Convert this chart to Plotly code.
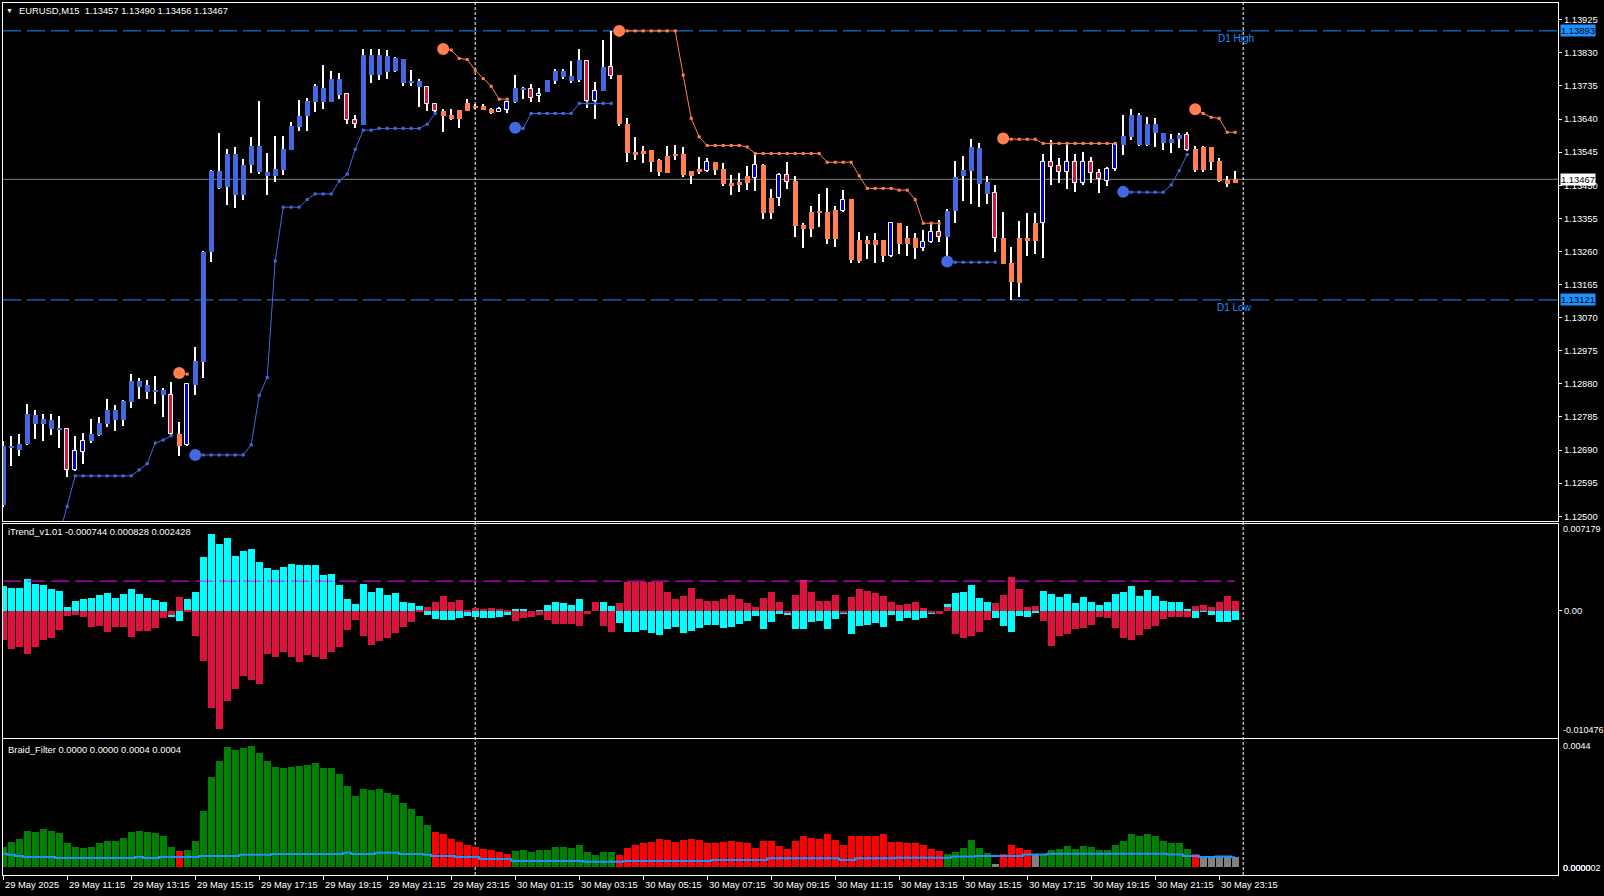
import plotly.graph_objects as go

# ---------------- data ----------------
symbol = "EURUSD,M15"

opens = [
    1.12533, 1.12695, 1.12691, 1.12708, 1.12765, 1.12765, 1.12751, 1.12748, 1.12750, 1.12633,
    1.12684, 1.12715, 1.12732, 1.12765, 1.12775, 1.12775, 1.12829, 1.12872, 1.12858, 1.12858,
    1.12847, 1.12847, 1.12737, 1.12704, 1.12877, 1.12944, 1.13259, 1.13443, 1.13446, 1.13422,
    1.13422, 1.13508, 1.13489, 1.13477, 1.13477, 1.13494, 1.13551, 1.13618, 1.13648, 1.13689,
    1.13689, 1.13689, 1.13709, 1.13711, 1.13636, 1.13623, 1.13766, 1.13766, 1.13775, 1.13777,
    1.13744, 1.13744, 1.13732, 1.13732, 1.13682, 1.13663, 1.13651, 1.13666, 1.13685, 1.13677,
    1.13677, 1.13668, 1.13659, 1.13667, 1.13689, 1.13726, 1.13727, 1.13705, 1.13718, 1.13750,
    1.13761, 1.13749, 1.13751, 1.13806, 1.13692, 1.13721, 1.13788, 1.13766, 1.13627, 1.13545,
    1.13548, 1.13551, 1.13522, 1.13534, 1.13539, 1.13539, 1.13491, 1.13496, 1.13492, 1.13516,
    1.13496, 1.13457, 1.13460, 1.13476, 1.13472, 1.13508, 1.13414, 1.13412, 1.13479, 1.13462,
    1.13336, 1.13374, 1.13374, 1.13374, 1.13379, 1.13377, 1.13410, 1.13293, 1.13293, 1.13293,
    1.13293, 1.13247, 1.13343, 1.13299, 1.13299, 1.13269, 1.13286, 1.13315, 1.13302, 1.13377,
    1.13476, 1.13492, 1.13454, 1.13425, 1.13427, 1.13298, 1.13226, 1.13300, 1.13299, 1.13341,
    1.13341, 1.13517, 1.13505, 1.13489, 1.13517, 1.13457, 1.13517, 1.13486, 1.13463, 1.13496,
    1.13565, 1.13589, 1.13565, 1.13565, 1.13599, 1.13572, 1.13570, 1.13582, 1.13594, 1.13554,
    1.13560, 1.13560, 1.13519, 1.13465, 1.13457,
]
highs = [
    1.12715, 1.12731, 1.12737, 1.12822, 1.12804, 1.12793, 1.12793, 1.12788, 1.12752, 1.12731,
    1.12739, 1.12779, 1.12786, 1.12836, 1.12820, 1.12834, 1.12909, 1.12896, 1.12891, 1.12903,
    1.12868, 1.12884, 1.12770, 1.12881, 1.12987, 1.13261, 1.13493, 1.13599, 1.13554, 1.13560,
    1.13524, 1.13589, 1.13692, 1.13543, 1.13591, 1.13592, 1.13632, 1.13694, 1.13701, 1.13742,
    1.13795, 1.13778, 1.13771, 1.13716, 1.13651, 1.13840, 1.13840, 1.13840, 1.13838, 1.13818,
    1.13812, 1.13780, 1.13756, 1.13734, 1.13685, 1.13668, 1.13668, 1.13666, 1.13697, 1.13683,
    1.13682, 1.13673, 1.13675, 1.13689, 1.13766, 1.13731, 1.13740, 1.13730, 1.13751, 1.13783,
    1.13785, 1.13806, 1.13842, 1.13809, 1.13747, 1.13866, 1.13893, 1.13766, 1.13644, 1.13589,
    1.13562, 1.13551, 1.13525, 1.13563, 1.13565, 1.13560, 1.13491, 1.13532, 1.13529, 1.13516,
    1.13515, 1.13479, 1.13486, 1.13506, 1.13539, 1.13511, 1.13439, 1.13486, 1.13517, 1.13476,
    1.13343, 1.13390, 1.13425, 1.13441, 1.13390, 1.13436, 1.13410, 1.13317, 1.13304, 1.13314,
    1.13293, 1.13343, 1.13343, 1.13333, 1.13312, 1.13322, 1.13338, 1.13350, 1.13382, 1.13519,
    1.13534, 1.13582, 1.13570, 1.13476, 1.13451, 1.13372, 1.13272, 1.13347, 1.13369, 1.13369,
    1.13541, 1.13580, 1.13527, 1.13565, 1.13541, 1.13544, 1.13530, 1.13496, 1.13503, 1.13572,
    1.13651, 1.13668, 1.13656, 1.13646, 1.13642, 1.13601, 1.13597, 1.13601, 1.13602, 1.13563,
    1.13562, 1.13560, 1.13529, 1.13477, 1.13490,
]
lows = [
    1.12528, 1.12645, 1.12672, 1.12705, 1.12721, 1.12717, 1.12734, 1.12697, 1.12614, 1.12630,
    1.12650, 1.12710, 1.12731, 1.12755, 1.12746, 1.12760, 1.12810, 1.12836, 1.12837, 1.12823,
    1.12786, 1.12734, 1.12674, 1.12702, 1.12847, 1.12898, 1.13231, 1.13439, 1.13393, 1.13386,
    1.13408, 1.13484, 1.13482, 1.13422, 1.13460, 1.13479, 1.13550, 1.13606, 1.13606, 1.13661,
    1.13668, 1.13688, 1.13697, 1.13627, 1.13613, 1.13622, 1.13744, 1.13751, 1.13756, 1.13776,
    1.13735, 1.13734, 1.13675, 1.13663, 1.13659, 1.13604, 1.13637, 1.13613, 1.13664, 1.13670,
    1.13666, 1.13654, 1.13659, 1.13656, 1.13685, 1.13697, 1.13689, 1.13689, 1.13718, 1.13742,
    1.13754, 1.13744, 1.13747, 1.13673, 1.13639, 1.13721, 1.13756, 1.13620, 1.13517, 1.13522,
    1.13513, 1.13489, 1.13477, 1.13486, 1.13522, 1.13474, 1.13455, 1.13482, 1.13489, 1.13479,
    1.13448, 1.13422, 1.13431, 1.13436, 1.13434, 1.13353, 1.13353, 1.13391, 1.13439, 1.13302,
    1.13271, 1.13302, 1.13331, 1.13280, 1.13274, 1.13372, 1.13228, 1.13228, 1.13238, 1.13228,
    1.13231, 1.13245, 1.13253, 1.13247, 1.13238, 1.13262, 1.13283, 1.13288, 1.13231, 1.13343,
    1.13405, 1.13396, 1.13388, 1.13396, 1.13259, 1.13223, 1.13121, 1.13130, 1.13247, 1.13253,
    1.13242, 1.13451, 1.13457, 1.13439, 1.13431, 1.13452, 1.13457, 1.13429, 1.13449, 1.13492,
    1.13537, 1.13580, 1.13563, 1.13562, 1.13560, 1.13551, 1.13543, 1.13556, 1.13548, 1.13489,
    1.13489, 1.13494, 1.13460, 1.13446, 1.13456,
]
closes = [
    1.12702, 1.12702, 1.12708, 1.12793, 1.12790, 1.12779, 1.12777, 1.12754, 1.12633, 1.12686,
    1.12715, 1.12736, 1.12767, 1.12805, 1.12805, 1.12831, 1.12889, 1.12889, 1.12877, 1.12863,
    1.12863, 1.12736, 1.12703, 1.12879, 1.12946, 1.13259, 1.13491, 1.13491, 1.13541, 1.13541,
    1.13508, 1.13563, 1.13563, 1.13489, 1.13496, 1.13554, 1.13620, 1.13648, 1.13691, 1.13734,
    1.13730, 1.13756, 1.13756, 1.13637, 1.13625, 1.13823, 1.13823, 1.13823, 1.13820, 1.13816,
    1.13812, 1.13749, 1.13749, 1.13682, 1.13663, 1.13649, 1.13639, 1.13639, 1.13664, 1.13672,
    1.13666, 1.13658, 1.13668, 1.13688, 1.13730, 1.13730, 1.13701, 1.13711, 1.13751, 1.13777,
    1.13777, 1.13763, 1.13809, 1.13692, 1.13720, 1.13790, 1.13764, 1.13625, 1.13543, 1.13537,
    1.13539, 1.13516, 1.13489, 1.13486, 1.13535, 1.13479, 1.13477, 1.13489, 1.13516, 1.13494,
    1.13453, 1.13449, 1.13451, 1.13457, 1.13508, 1.13371, 1.13371, 1.13479, 1.13460, 1.13333,
    1.13325, 1.13325, 1.13371, 1.13296, 1.13296, 1.13409, 1.13236, 1.13234, 1.13281, 1.13278,
    1.13247, 1.13341, 1.13281, 1.13281, 1.13269, 1.13286, 1.13315, 1.13302, 1.13377, 1.13473,
    1.13494, 1.13559, 1.13557, 1.13458, 1.13298, 1.13224, 1.13173, 1.13170, 1.13291, 1.13291,
    1.13516, 1.13501, 1.13489, 1.13517, 1.13457, 1.13517, 1.13486, 1.13467, 1.13498, 1.13567,
    1.13591, 1.13651, 1.13651, 1.13627, 1.13625, 1.13599, 1.13582, 1.13594, 1.13551, 1.13494,
    1.13494, 1.13517, 1.13463, 1.13453, 1.13467,
]
# candle paint: U = trend-up body, D = trend-down body, R = bear candle, B = bull candle
candle_style = ("UUUUUUUURB" "BUUUUUUUUU" "URDBUUUUUU" "UUUUUUUUUU" "UUURRUUUUU"
                "UUURRDDDDD" "DDBBUURBUU" "UUURBURDDD" "DDDDDDDDBD" "DDDDBDDBRD"
                "DDDDDBDDDD" "DBDDDBBRUU" "UUUURDDDDD" "BRRBRBRRBB" "UUUUUUUURD"
                "DDDDD")

# trailing stop lines: (first bar, values)
up_trail_segments = [
    (7, [1.12445, 1.12528, 1.12616, 1.12616, 1.12616, 1.12616, 1.12616, 1.12616, 1.12616,
         1.12616, 1.12633, 1.12651, 1.12710, 1.12719, 1.12731]),
    (24, [1.12676, 1.12676, 1.12676, 1.12676, 1.12676, 1.12676, 1.12676, 1.12705, 1.12847,
          1.12898, 1.13233, 1.13387, 1.13387, 1.13387, 1.13409, 1.13425, 1.13425, 1.13425,
          1.13462, 1.13482, 1.13553, 1.13608, 1.13608, 1.13613, 1.13613, 1.13613, 1.13613,
          1.13613, 1.13613, 1.13625, 1.13656]),
    (64, [1.13615, 1.13613, 1.13656, 1.13656, 1.13656, 1.13656, 1.13656, 1.13656, 1.13685,
          1.13685, 1.13685, 1.13685, 1.13685]),
    (118, [1.13231, 1.13229, 1.13229, 1.13229, 1.13229, 1.13229, 1.13229]),
    (140, [1.13431, 1.13430, 1.13430, 1.13430, 1.13430, 1.13430, 1.13451, 1.13492, 1.13538]),
]
down_trail_segments = [
    (22, [1.12911, 1.12908]),
    (55, [1.13841, 1.13838, 1.13814, 1.13811, 1.13780, 1.13756, 1.13734, 1.13697, 1.13697]),
    (77, [1.13893, 1.13893, 1.13893, 1.13893, 1.13893, 1.13893, 1.13893, 1.13893, 1.13766,
          1.13642, 1.13589, 1.13564, 1.13564, 1.13564, 1.13564, 1.13564, 1.13560, 1.13541,
          1.13541, 1.13541, 1.13541, 1.13541, 1.13541, 1.13541, 1.13541, 1.13541, 1.13516,
          1.13516, 1.13516, 1.13516, 1.13477, 1.13441, 1.13441, 1.13441, 1.13441, 1.13436,
          1.13436, 1.13409, 1.13341, 1.13341, 1.13341]),
    (125, [1.13584, 1.13582, 1.13582, 1.13582, 1.13582, 1.13570, 1.13570, 1.13570, 1.13570,
           1.13570, 1.13570, 1.13570, 1.13570, 1.13570, 1.13570]),
    (149, [1.13668, 1.13656, 1.13645, 1.13642, 1.13602, 1.13602]),
]

d1_high = 1.13893
d1_low = 1.13121
price_range = [1.124865, 1.13973]
price_ticks = [1.12500, 1.12595, 1.12690, 1.12785, 1.12880, 1.12975, 1.13070, 1.13165,
               1.13260, 1.13355, 1.13450, 1.13545, 1.13640, 1.13735, 1.13830, 1.13925]

itrend_cyan = [
    0.00207, 0.00190, 0.00190, 0.00265, 0.00224, 0.00215, 0.00182, 0.00166, 0.00033, 0.00083,
    0.00099, 0.00108, 0.00132, 0.00149, 0.00108, 0.00141, 0.00182, 0.00141, 0.00108, 0.00091,
    0.00075, -0.00050, -0.00083, 0.00099, 0.00157, 0.00447, 0.00638, 0.00555, 0.00604, 0.00455,
    0.00497, 0.00513, 0.00406, 0.00356, 0.00339, 0.00364, 0.00389, 0.00381, 0.00381, 0.00381,
    0.00298, 0.00306, 0.00215, 0.00099, 0.00058, 0.00224, 0.00157, 0.00190, 0.00132, 0.00149,
    0.00075, 0.00066, 0.00041, -0.00033, -0.00066, -0.00075, -0.00075, -0.00058, -0.00041, -0.00050,
    -0.00058, -0.00058, -0.00050, -0.00033, 0.00019, 0.00019, 0.0, 0.00011, 0.00050, 0.00077,
    0.00066, 0.00050, 0.00100, 0.0, 0.0, 0.00075, 0.00041, -0.00097, -0.00171, -0.00174,
    -0.00157, -0.00182, -0.00199, -0.00149, -0.00132, -0.00182, -0.00166, -0.00141, -0.00116, -0.00116,
    -0.00141, -0.00132, -0.00108, -0.00083, -0.00041, -0.00149, -0.00091, -0.00025, -0.00033, -0.00149,
    -0.00149, -0.00091, -0.00083, -0.00149, -0.00066, -0.00025, -0.00190, -0.00124, -0.00116, -0.00099,
    -0.00132, -0.00033, -0.00083, -0.00058, -0.00075, -0.00058, -0.00025, 0.0, 0.00058, 0.00149,
    0.00157, 0.00215, 0.00108, 0.00075, -0.00058, -0.00124, -0.00174, -0.00041, -0.00050, -0.00008,
    0.00166, 0.00141, 0.00116, 0.00141, 0.00066, 0.00116, 0.00075, 0.00050, 0.00075, 0.00141,
    0.00157, 0.00207, 0.00124, 0.00174, 0.00124, 0.00083, 0.00075, 0.00075, 0.00017, -0.00058,
    -0.00005, -0.00030, -0.00088, -0.00088, -0.000744,
]
itrend_red = [
    -0.00240, -0.00312, -0.00298, -0.00356, -0.00298, -0.00240, -0.00224, -0.00157, -0.00041, -0.00033,
    -0.00050, -0.00132, -0.00124, -0.00174, -0.00132, -0.00132, -0.00215, -0.00166, -0.00166, -0.00141,
    -0.00058, -0.00033, 0.00116, 0.00008, -0.00207, -0.00414, -0.00800, -0.00974, -0.00742, -0.00643,
    -0.00535, -0.00569, -0.00602, -0.00353, -0.00378, -0.00337, -0.00378, -0.00420, -0.00362, -0.00378,
    -0.00395, -0.00337, -0.00295, -0.00157, -0.00075, -0.00207, -0.00279, -0.00246, -0.00224, -0.00182,
    -0.00132, -0.00091, 0.00008, 0.00033, 0.00075, 0.00124, 0.00075, 0.00091, 0.00008, 0.00025,
    0.00017, 0.00025, 0.00017, 0.00011, -0.00080, -0.00058, -0.00047, -0.00033, -0.00072, -0.00105,
    -0.00105, -0.00105, -0.00121, -0.00022, 0.00075, -0.00121, -0.00171, 0.00066, 0.00240, 0.00240,
    0.00240, 0.00240, 0.00240, 0.00157, 0.00099, 0.00124, 0.00190, 0.00099, 0.00083, 0.00083,
    0.00099, 0.00132, 0.00099, 0.00066, 0.00033, 0.00108, 0.00157, 0.00075, -0.00014, 0.00132,
    0.00257, 0.00157, 0.00083, 0.00083, 0.00132, -0.00015, 0.00116, 0.00182, 0.00166, 0.00149,
    0.00124, 0.00075, 0.00050, 0.00058, 0.00075, 0.00025, -0.00008, -0.00025, 0.00033, -0.00190,
    -0.00224, -0.00207, -0.00174, -0.00075, 0.00066, 0.00132, 0.00282, 0.00182, 0.00033, 0.00041,
    -0.00083, -0.00290, -0.00207, -0.00190, -0.00149, -0.00141, -0.00116, -0.00050, -0.00058, -0.00141,
    -0.00224, -0.00240, -0.00199, -0.00149, -0.00124, -0.00066, -0.00050, -0.00050, -0.00050, 0.00041,
    0.00047, 0.00033, 0.00077, 0.00124, 0.000828,
]
itrend_level = 0.002428
itrend_range = [-0.010476, 0.007179]

braid_value = [
    0.00071, 0.00088, 0.00099, 0.00126, 0.00123, 0.00130, 0.00126, 0.00119, 0.00082, 0.00071,
    0.00068, 0.00071, 0.00082, 0.00092, 0.00092, 0.00102, 0.00123, 0.00126, 0.00123, 0.00119,
    0.00109, 0.00071, 0.00057, 0.00061, 0.00092, 0.00192, 0.00309, 0.00364, 0.00412, 0.00402,
    0.00409, 0.00416, 0.00392, 0.00364, 0.00344, 0.00340, 0.00344, 0.00347, 0.00350, 0.00357,
    0.00340, 0.00340, 0.00319, 0.00278, 0.00244, 0.00268, 0.00264, 0.00268, 0.00254, 0.00247,
    0.00219, 0.00199, 0.00175, 0.00144, 0.00123, 0.00113, 0.00099, 0.00088, 0.00078, 0.00071,
    0.00064, 0.00061, 0.00054, 0.00047, 0.00057, 0.00061, 0.00054, 0.00061, 0.00061, 0.00071,
    0.00071, 0.00068, 0.00078, 0.00054, 0.00044, 0.00054, 0.00054, 0.00044, 0.00068, 0.00078,
    0.00082, 0.00088, 0.00099, 0.00095, 0.00088, 0.00095, 0.00099, 0.00095, 0.00085, 0.00082,
    0.00088, 0.00092, 0.00088, 0.00082, 0.00068, 0.00092, 0.00092, 0.00075, 0.00064, 0.00092,
    0.00109, 0.00102, 0.00099, 0.00113, 0.00095, 0.00078, 0.00109, 0.00109, 0.00109, 0.00106,
    0.00113, 0.00088, 0.00088, 0.00082, 0.00082, 0.00078, 0.00064, 0.00057, 0.00047, 0.00054,
    0.00068, 0.00095, 0.00068, 0.00051, 0.00013, 0.00047, 0.00078, 0.00068, 0.00061, 0.00044,
    0.00044, 0.00061, 0.00064, 0.00075, 0.00064, 0.00075, 0.00071, 0.00061, 0.00061, 0.00078,
    0.00092, 0.00116, 0.00106, 0.00113, 0.00106, 0.00092, 0.00085, 0.00082, 0.00064, 0.00047,
    0.00038, 0.00037, 0.00037, 0.00036, 0.00036,
]
# G = green (up), R = red (down), N = gray (neutral)
braid_state = ("GGGGGGGGGG" "GGGGGGGGGG" "GGRGGGGGGG" "GGGGGGGGGG" "GGGGGGGGGG"
               "GGGGRRRRRR" "RRRRGGGGGG" "GGGGGGGRRR" "RRRRRRRRRR" "RRRRRRRRRR"
               "RRRRRRRRRR" "RRRRRRRRGG" "GGGGNRRRRN" "GGGGGGGGGG" "GGGGGGGGGR"
               "NNNNN")
braid_filter = [
    0.00048, 0.00044, 0.00040, 0.00037, 0.00037, 0.00037, 0.00037, 0.00033, 0.00033, 0.00033,
    0.00033, 0.00033, 0.00033, 0.00033, 0.00033, 0.00033, 0.00033, 0.00037, 0.00033, 0.00033,
    0.00037, 0.00037, 0.00037, 0.00037, 0.00037, 0.00040, 0.00040, 0.00040, 0.00040, 0.00040,
    0.00044, 0.00044, 0.00044, 0.00044, 0.00047, 0.00047, 0.00047, 0.00047, 0.00047, 0.00047,
    0.00047, 0.00047, 0.00047, 0.00051, 0.00047, 0.00047, 0.00047, 0.00051, 0.00051, 0.00051,
    0.00047, 0.00047, 0.00047, 0.00044, 0.00040, 0.00040, 0.00040, 0.00037, 0.00037, 0.00037,
    0.00030, 0.00030, 0.00030, 0.00030, 0.00023, 0.00023, 0.00023, 0.00023, 0.00023, 0.00023,
    0.00023, 0.00023, 0.00023, 0.00020, 0.00020, 0.00020, 0.00020, 0.00020, 0.00023, 0.00023,
    0.00023, 0.00023, 0.00023, 0.00023, 0.00023, 0.00023, 0.00023, 0.00023, 0.00023, 0.00026,
    0.00026, 0.00026, 0.00026, 0.00026, 0.00026, 0.00026, 0.00032, 0.00032, 0.00032, 0.00032,
    0.00032, 0.00032, 0.00032, 0.00032, 0.00032, 0.00026, 0.00026, 0.00032, 0.00032, 0.00032,
    0.00032, 0.00032, 0.00034, 0.00034, 0.00034, 0.00034, 0.00034, 0.00034, 0.00034, 0.00038,
    0.00038, 0.00038, 0.00040, 0.00040, 0.00040, 0.00040, 0.00040, 0.00040, 0.00045, 0.00045,
    0.00045, 0.00048, 0.00048, 0.00048, 0.00048, 0.00048, 0.00048, 0.00048, 0.00048, 0.00048,
    0.00048, 0.00048, 0.00048, 0.00048, 0.00048, 0.00048, 0.00045, 0.00045, 0.00040, 0.00040,
    0.00037, 0.00037, 0.00038, 0.00038, 0.00036,
]
braid_range = [-0.00025, 0.0044]

time_labels = ["29 May 2025", "29 May 11:15", "29 May 13:15", "29 May 15:15", "29 May 17:15",
               "29 May 19:15", "29 May 21:15", "29 May 23:15", "30 May 01:15", "30 May 03:15",
               "30 May 05:15", "30 May 07:15", "30 May 09:15", "30 May 11:15", "30 May 13:15",
               "30 May 15:15", "30 May 17:15", "30 May 19:15", "30 May 21:15", "30 May 23:15"]
label_bars = [0, 8, 16, 24, 32, 40, 48, 56, 64, 72, 80, 88, 96, 104, 112, 120, 128, 136, 144, 152]
day_start_bars = [59, 155]

N = len(closes)
for arr in (opens, highs, lows, itrend_cyan, itrend_red, braid_value, braid_filter):
    assert len(arr) == N, len(arr)
assert len(candle_style) == N and len(braid_state) == N

# ---------------- styling helpers ----------------
FONT = "Liberation Sans, Arial, sans-serif"
FS = 9.4
ROYAL, CORAL = "#4169E1", "#FF7F50"
style_map = {
    "U": (ROYAL, ROYAL, 0, 0.62),
    "D": (CORAL, CORAL, 0, 0.62),
    "R": ("#DC143C", "white", 1, 0.5),
    "B": ("#0000CD", "white", 1, 0.5),
}
braid_colors = {"G": "#008000", "R": "#FF0000", "N": "#808080"}

xs = list(range(N))


def expand(segments):
    arr = [None] * N
    for start, vals in segments:
        for k, v in enumerate(vals):
            arr[start + k] = v
    return arr


fig = go.Figure()

# wicks
fig.add_trace(go.Bar(x=xs, y=[h - l for h, l in zip(highs, lows)], base=lows, width=0.13,
                     marker=dict(color="white", line=dict(width=0)),
                     xaxis="x", yaxis="y", hoverinfo="skip"))
# bodies
fig.add_trace(go.Bar(
    x=xs,
    y=[max(abs(c - o), 0.00003) for o, c in zip(opens, closes)],
    base=[min(o, c) for o, c in zip(opens, closes)],
    width=[style_map[s][3] for s in candle_style],
    marker=dict(color=[style_map[s][0] for s in candle_style],
                line=dict(color=[style_map[s][1] for s in candle_style],
                          width=[style_map[s][2] for s in candle_style])),
    xaxis="x", yaxis="y", hoverinfo="skip"))

# trailing stops
for segs, col in ((up_trail_segments, ROYAL), (down_trail_segments, CORAL)):
    fig.add_trace(go.Scatter(x=xs, y=expand(segs), mode="lines+markers", connectgaps=False,
                             line=dict(color=col, width=1),
                             marker=dict(symbol="square", size=3, color=col),
                             xaxis="x", yaxis="y", hoverinfo="skip"))
    fig.add_trace(go.Scatter(x=[s for s, v in segs], y=[v[0] for s, v in segs], mode="markers",
                             marker=dict(size=12, color=col),
                             xaxis="x", yaxis="y", hoverinfo="skip"))

# iTrend
fig.add_trace(go.Bar(x=xs, y=itrend_cyan, width=0.85, marker=dict(color="#00FFFF", line=dict(width=0)),
                     xaxis="x2", yaxis="y2", hoverinfo="skip"))
fig.add_trace(go.Bar(x=xs, y=itrend_red, width=0.85, marker=dict(color="#DC143C", line=dict(width=0)),
                     xaxis="x2", yaxis="y2", hoverinfo="skip"))
fig.add_trace(go.Scatter(x=[0, N - 1], y=[itrend_level, itrend_level], mode="lines",
                         line=dict(color="#FF00FF", width=1, dash="18px,6px"),
                         xaxis="x2", yaxis="y2", hoverinfo="skip"))

# Braid filter
fig.add_trace(go.Bar(x=xs, y=braid_value, width=0.85,
                     marker=dict(color=[braid_colors[s] for s in braid_state], line=dict(width=0)),
                     xaxis="x3", yaxis="y3", hoverinfo="skip"))
fig.add_trace(go.Scatter(x=xs, y=braid_filter, mode="lines", line=dict(color="#1E90FF", width=2, shape="hvh"),
                         xaxis="x3", yaxis="y3", hoverinfo="skip"))

# ---------------- layout ----------------
L_M, R_M, T_M, B_M = 3, 46, 3, 21
PW, PH = 1604 - L_M - R_M, 896 - T_M - B_M


def py(px):
    return (896 - B_M - px) / PH


def pxx(px):
    return (px - L_M) / PW


xcommon = dict(range=[-0.025, 194.35], showgrid=False, zeroline=False, showline=True, mirror=True,
               linecolor="white", linewidth=1, showticklabels=False, fixedrange=True)
ycommon = dict(side="right", showgrid=False, zeroline=False, showline=True, mirror=True,
               linecolor="white", linewidth=1, ticks="outside", ticklen=3, tickcolor="white",
               tickfont=dict(family=FONT, size=FS, color="white"), fixedrange=True)

fig.update_layout(
    width=1604, height=896,
    margin=dict(l=L_M, r=R_M, t=T_M, b=B_M),
    paper_bgcolor="black", plot_bgcolor="rgba(0,0,0,0)",
    showlegend=False, barmode="overlay", bargap=0, hovermode=False,
    font=dict(family=FONT, size=FS, color="white"),
    xaxis=dict(domain=[0, 1], anchor="y", ticks="", **xcommon),
    xaxis2=dict(domain=[0, 1], anchor="y2", matches="x", ticks="", **xcommon),
    xaxis3=dict(domain=[0, 1], anchor="y3", matches="x", ticks="outside", ticklen=4,
                tickcolor="white", tickvals=label_bars, **xcommon),
    yaxis=dict(domain=[py(521), 1], anchor="x", range=price_range, tickvals=price_ticks,
               ticktext=[f"{v:.5f}" for v in price_ticks], **ycommon),
    yaxis2=dict(domain=[py(737.7), py(523.5)], anchor="x2", range=itrend_range,
                tickvals=[0], ticktext=["0.00"], **ycommon),
    yaxis3=dict(domain=[0, py(739.3)], anchor="x3", range=braid_range,
                tickvals=[], **ycommon),
)

shapes = []
for lvl in (d1_high, d1_low):
    shapes.append(dict(type="line", xref="paper", x0=0, x1=1, yref="y", y0=lvl, y1=lvl,
                       line=dict(color="#1E90FF", width=1, dash="18px,6px"), layer="below"))
shapes.append(dict(type="line", xref="paper", x0=0, x1=1, yref="y", y0=closes[-1], y1=closes[-1],
                   line=dict(color="#808080", width=1), layer="below"))
for b in day_start_bars:
    shapes.append(dict(type="line", xref="x", x0=b, x1=b, yref="paper", y0=0, y1=1,
                       line=dict(color="white", width=1, dash="3px,2px"), layer="below"))
fig.update_layout(shapes=shapes)

ann = []
NB = "\u00a0"
ann.append(dict(text="▼", x=pxx(9.5), xref="paper", y=py(10.5), yref="paper", xanchor="center",
                yanchor="middle", showarrow=False, font=dict(size=7, color="white")))
ann.append(dict(text=f"{symbol}{NB}{NB}{opens[-1]:.5f} {highs[-1]:.5f} {lows[-1]:.5f} {closes[-1]:.5f}",
                x=pxx(16.5), xref="paper", y=py(10.7), yref="paper", xanchor="left", yanchor="middle",
                showarrow=False, font=dict(size=FS, color="white")))
ann.append(dict(text=f"iTrend_v1.01 {itrend_cyan[-1]:.6f} {itrend_red[-1]:.6f} {itrend_level:.6f}",
                x=pxx(5.5), xref="paper", y=py(531.7), yref="paper", xanchor="left", yanchor="middle",
                showarrow=False, font=dict(size=FS, color="white")))
g_last = braid_value[-1] if braid_state[-1] == "G" else 0.0
r_last = braid_value[-1] if braid_state[-1] == "R" else 0.0
n_last = braid_value[-1] if braid_state[-1] == "N" else 0.0
ann.append(dict(text=f"Braid_Filter {g_last:.4f} {r_last:.4f} {n_last:.4f} {braid_filter[-1]:.4f}",
                x=pxx(5.5), xref="paper", y=py(749), yref="paper", xanchor="left", yanchor="middle",
                showarrow=False, font=dict(size=FS, color="white")))
# edge labels of indicator scales
for txt, ypx in ((f"{itrend_range[1]:.6f}", 529.3), (f"{itrend_range[0]:.6f}", 730.3),
                 (f"{braid_range[1]:.4f}", 746.3)):
    ann.append(dict(text=txt, x=pxx(1560.5), xref="paper", y=py(ypx), yref="paper", xanchor="left",
                    yanchor="middle", showarrow=False, font=dict(size=9, color="white")))
for txt in ("0.0000", "0.000002"):
    ann.append(dict(text=txt, x=pxx(1560.5), xref="paper", y=py(868.3), yref="paper", xanchor="left",
                    yanchor="middle", showarrow=False, font=dict(size=9, color="white")))
# price boxes
for lvl, bg in ((d1_high, "#1E90FF"), (d1_low, "#1E90FF"), (closes[-1], "white")):
    ann.append(dict(text=f"{lvl:.5f}", x=pxx(1560), xref="paper", y=lvl, yref="y", xanchor="left",
                    yanchor="middle", showarrow=False, bgcolor=bg, borderpad=0,
                    font=dict(size=FS, color="black")))
# D1 names
ann.append(dict(text="D1 High", x=pxx(1216), xref="paper", y=d1_high, yref="y", xanchor="left",
                yanchor="top", yshift=0, showarrow=False, font=dict(size=FS + 0.6, color="#1E90FF")))
ann.append(dict(text="D1 Low", x=pxx(1215), xref="paper", y=d1_low, yref="y", xanchor="left",
                yanchor="top", yshift=0, showarrow=False, font=dict(size=FS + 0.6, color="#1E90FF")))
# time axis labels
for b, t in zip(label_bars, time_labels):
    ann.append(dict(text=t, x=b, xref="x", y=py(884.3), yref="paper", xanchor="left", yanchor="middle",
                    showarrow=False, font=dict(size=FS, color="white")))
fig.update_layout(annotations=ann)

fig.write_html("out.html", config={"displayModeBar": False},
               post_script="document.body.style.margin='0';")
